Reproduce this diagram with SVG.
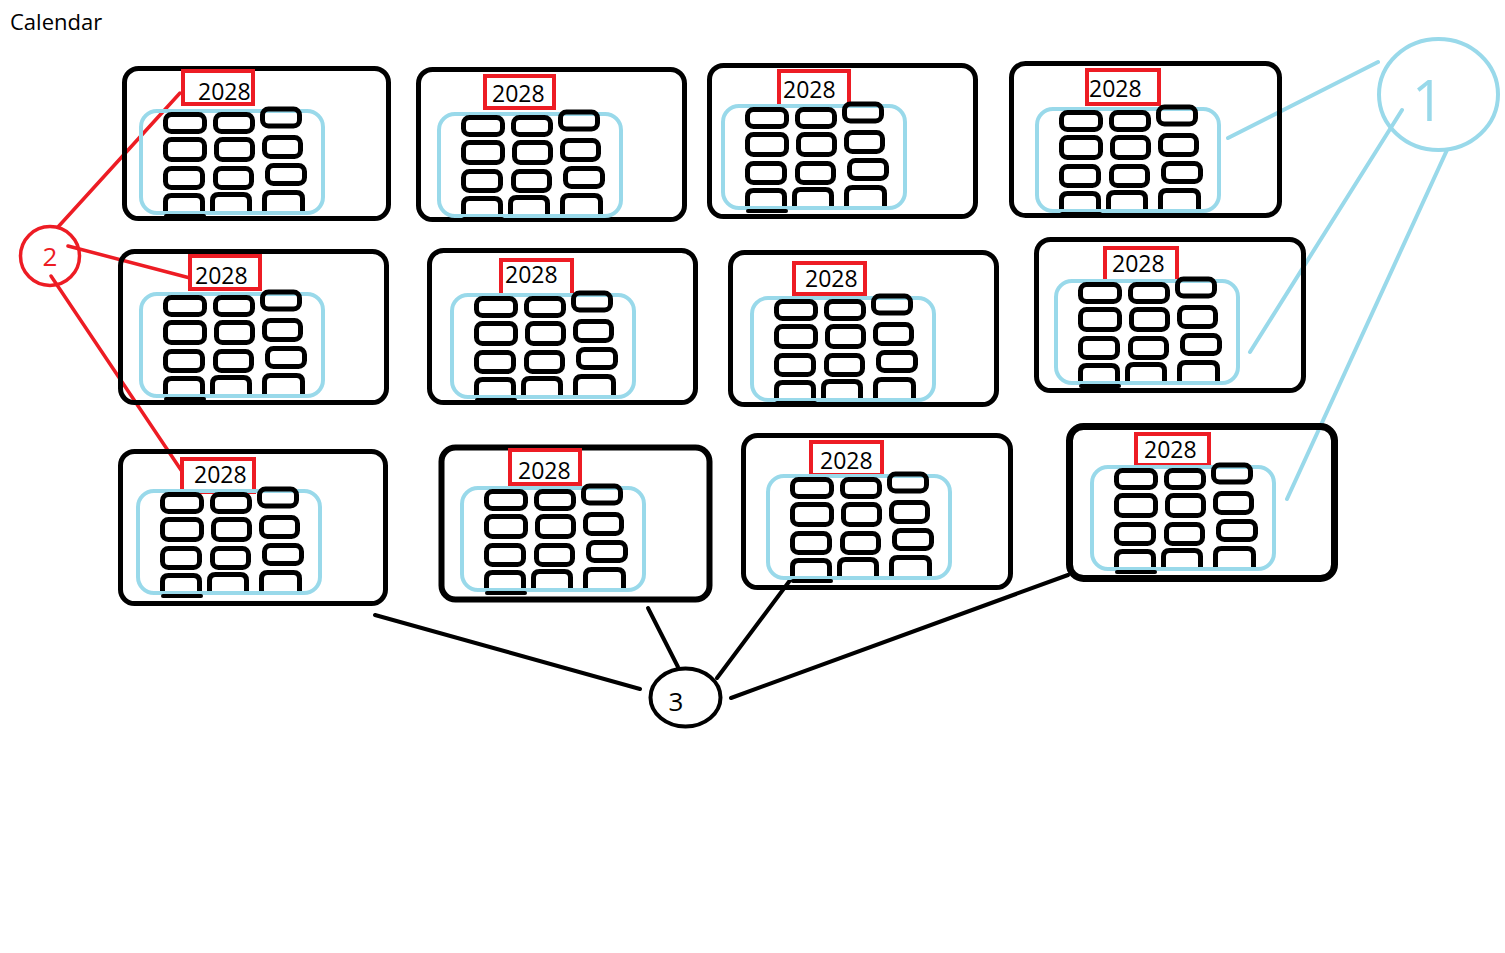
<svg xmlns="http://www.w3.org/2000/svg" xmlns:xlink="http://www.w3.org/1999/xlink" width="1505" height="953" viewBox="0 0 1505 953">
<style>
.card{fill:none;stroke:#000;stroke-width:5}
.red{fill:none;stroke:#ed1c24;stroke-width:4}
.yr{font-family:"Open Sans","Liberation Sans",sans-serif;font-size:23px;fill:#000}
.cell{fill:none;stroke:#000;stroke-width:5}
.blue{fill:none;stroke:#99d9ea;stroke-width:4}
.cb{fill:none;stroke:#99d9ea;stroke-width:4;stroke-linecap:round}
.cr{fill:none;stroke:#ed1c24;stroke-width:3.5;stroke-linecap:round}
.ck{fill:none;stroke:#000;stroke-width:4;stroke-linecap:round}
.lbl{font-family:"Open Sans","Liberation Sans",sans-serif;text-anchor:middle}
</style>
<defs>
<g id="grid">
<rect class="blue" x="2" y="2" width="182" height="102" rx="16"/>
<rect class="cell" x="26.5" y="5.5" width="39" height="17" rx="6"/>
<rect class="cell" x="76.5" y="5.5" width="37" height="17" rx="6"/>
<rect class="cell" x="123.5" y="0" width="37" height="17" rx="6"/>
<rect class="cell" x="26.5" y="30.5" width="39" height="20" rx="6"/>
<rect class="cell" x="77.5" y="30.5" width="36" height="20" rx="6"/>
<rect class="cell" x="125.5" y="28.5" width="36" height="19" rx="6"/>
<rect class="cell" x="26.5" y="59.5" width="37" height="19" rx="6"/>
<rect class="cell" x="76.5" y="59.5" width="36" height="19" rx="6"/>
<rect class="cell" x="128.5" y="56.5" width="37" height="18" rx="6"/>
<path class="cell" d="M26.5 102V92.5Q26.5 86.5 32.5 86.5H57.5Q63.5 86.5 63.5 92.5V102"/>
<path class="cell" d="M73.5 102V91.5Q73.5 85.5 79.5 85.5H104.5Q110.5 85.5 110.5 91.5V102"/>
<path class="cell" d="M125.5 102V89.5Q125.5 83.5 131.5 83.5H157.5Q163.5 83.5 163.5 89.5V102"/>
<rect x="25" y="105" width="42" height="4" rx="2" fill="#000"/>
</g>
</defs>

<text x="10" y="30" style="font-family:'Open Sans','Liberation Sans',sans-serif;font-size:22px;fill:#000">Calendar</text>

<g id="connectors">
<line class="cb" x1="1228" y1="138" x2="1378" y2="62"/>
<line class="cb" x1="1250" y1="352" x2="1402" y2="110"/>
<line class="cb" x1="1287" y1="499" x2="1447" y2="150"/>
<line class="cr" x1="58" y1="227" x2="180" y2="93"/>
<line class="cr" x1="68" y1="246" x2="190" y2="278"/>
<line class="cr" x1="51" y1="276" x2="181" y2="470"/>
<line class="ck" x1="375" y1="615" x2="640" y2="689"/>
<line class="ck" x1="648" y1="608" x2="678" y2="667"/>
<line class="ck" x1="717" y1="678" x2="791" y2="579"/>
<line class="ck" x1="731" y1="698" x2="1068" y2="575"/>
</g>

<g id="card1">
<rect class="card" x="124.5" y="68.5" width="264" height="150" rx="14"/>
<rect class="red" x="183" y="71" width="70" height="33"/>
<use xlink:href="#grid" x="139" y="109"/>
<text class="yr" x="198" y="100">2028</text>
</g>
<g id="card2">
<rect class="card" x="418.5" y="69.5" width="266" height="150" rx="14"/>
<rect class="red" x="485" y="76" width="69" height="32"/>
<use xlink:href="#grid" x="437" y="112"/>
<text class="yr" x="492" y="102">2028</text>
</g>
<g id="card3">
<rect class="card" x="709.5" y="65.5" width="266" height="151" rx="14"/>
<rect class="red" x="779" y="71" width="70" height="35"/>
<use xlink:href="#grid" x="721" y="104"/>
<text class="yr" x="783" y="98">2028</text>
</g>
<g id="card4">
<rect class="card" x="1011.5" y="63.5" width="268" height="152" rx="14"/>
<rect class="red" x="1087" y="70" width="72" height="34"/>
<use xlink:href="#grid" x="1035" y="107"/>
<text class="yr" x="1089" y="97">2028</text>
</g>
<g id="card5">
<rect class="card" x="120.5" y="251.5" width="266" height="151" rx="14"/>
<rect class="red" x="190" y="256" width="70" height="33"/>
<use xlink:href="#grid" x="139" y="292"/>
<text class="yr" x="195" y="284">2028</text>
</g>
<g id="card6">
<rect class="card" x="429.5" y="250.5" width="266" height="152" rx="14"/>
<rect class="red" x="501" y="260" width="71" height="35"/>
<use xlink:href="#grid" x="450" y="293"/>
<text class="yr" x="505" y="283">2028</text>
</g>
<g id="card7">
<rect class="card" x="730.5" y="252.5" width="266" height="152" rx="14"/>
<rect class="red" x="794" y="263" width="71" height="31"/>
<use xlink:href="#grid" x="750" y="296"/>
<text class="yr" x="805" y="287">2028</text>
</g>
<g id="card8">
<rect class="card" x="1036.5" y="239.5" width="267" height="151" rx="14"/>
<rect class="red" x="1105" y="248" width="72" height="33"/>
<use xlink:href="#grid" x="1054" y="279"/>
<text class="yr" x="1112" y="272">2028</text>
</g>
<g id="card9">
<rect class="card" x="120.5" y="451.5" width="265" height="152" rx="14"/>
<rect class="red" x="182" y="459" width="72" height="33"/>
<use xlink:href="#grid" x="136" y="489"/>
<text class="yr" x="194" y="483">2028</text>
</g>
<g id="card10">
<rect class="card" x="441.5" y="447.5" width="268" height="152" rx="14" style="stroke-width:6"/>
<rect class="red" x="510" y="450" width="70" height="34"/>
<use xlink:href="#grid" x="460" y="486"/>
<text class="yr" x="518" y="479">2028</text>
</g>
<g id="card11">
<rect class="card" x="743.5" y="435.5" width="267" height="152" rx="14"/>
<rect class="red" x="811" y="442" width="71" height="33"/>
<use xlink:href="#grid" x="766" y="474"/>
<text class="yr" x="820" y="469">2028</text>
</g>
<g id="card12">
<rect class="card" x="1069.5" y="426.5" width="265" height="152" rx="14" style="stroke-width:7"/>
<rect class="red" x="1136" y="434" width="73" height="31"/>
<use xlink:href="#grid" x="1090" y="465"/>
<text class="yr" x="1144" y="458">2028</text>
</g>

<g id="label1">
<ellipse cx="1438.5" cy="94.5" rx="59.5" ry="55.5" fill="none" stroke="#99d9ea" stroke-width="4"/>
<text class="lbl" x="1428" y="121" style="font-size:56px;fill:#99d9ea">1</text>
</g>
<g id="label2">
<circle cx="50" cy="256" r="29.5" fill="none" stroke="#ed1c24" stroke-width="3.5"/>
<text class="lbl" x="50" y="266" style="font-size:26px;fill:#ed1c24">2</text>
</g>
<g id="label3">
<ellipse cx="685.5" cy="697.5" rx="35" ry="29" fill="none" stroke="#000" stroke-width="4"/>
<text class="lbl" x="676" y="711" style="font-size:26px;fill:#000">3</text>
</g>
</svg>
